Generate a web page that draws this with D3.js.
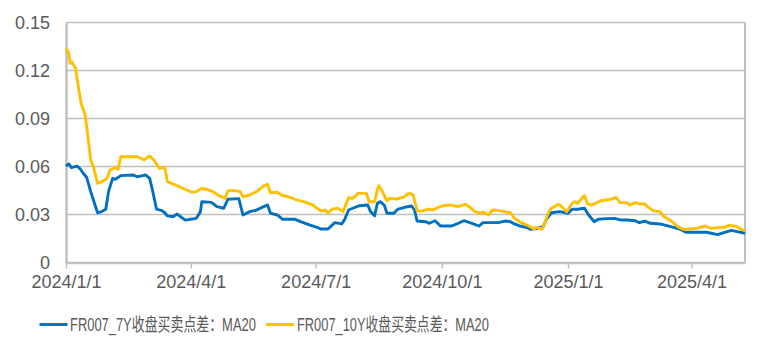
<!DOCTYPE html>
<html>
<head>
<meta charset="utf-8">
<script src="https://cdn.jsdelivr.net/npm/d3@7"></script>
<style>
  html, body { margin: 0; padding: 0; background: #ffffff; }
  svg { display: block; }
</style>
</head>
<body>
<svg id="chart" width="768" height="355"></svg>
<script>
// ---------------- DATA ----------------
const seriesNames = ["FR007_7Y收盘买卖点差：MA20", "FR007_10Y收盘买卖点差：MA20"];

const dates7Y = [
  "2024-01-01","2024-01-03","2024-01-05","2024-01-09","2024-01-11","2024-01-14","2024-01-16","2024-01-19",
  "2024-01-21","2024-01-24","2024-01-27","2024-01-30","2024-02-01","2024-02-04","2024-02-06","2024-02-10",
  "2024-02-19","2024-02-22","2024-02-25","2024-02-28","2024-03-02","2024-03-04","2024-03-07","2024-03-11",
  "2024-03-13","2024-03-15","2024-03-19","2024-03-22","2024-03-25","2024-03-28","2024-04-02","2024-04-05",
  "2024-04-08","2024-04-09","2024-04-16","2024-04-20","2024-04-25","2024-04-28","2024-05-06","2024-05-09",
  "2024-05-14","2024-05-19","2024-05-24","2024-05-27","2024-05-29","2024-06-03","2024-06-07","2024-06-16",
  "2024-06-20","2024-06-27","2024-07-02","2024-07-05","2024-07-10","2024-07-15","2024-07-20","2024-07-22",
  "2024-07-25","2024-07-28","2024-08-02","2024-08-08","2024-08-10","2024-08-13","2024-08-15","2024-08-17",
  "2024-08-20","2024-08-22","2024-08-27","2024-08-30","2024-09-04","2024-09-09","2024-09-11","2024-09-13",
  "2024-09-19","2024-09-22","2024-09-26","2024-09-30","2024-10-08","2024-10-13","2024-10-17","2024-10-23",
  "2024-10-28","2024-10-31","2024-11-11","2024-11-16","2024-11-20","2024-11-23","2024-11-27","2024-12-02",
  "2024-12-05","2024-12-10","2024-12-14","2024-12-16","2024-12-20","2024-12-26","2025-01-01","2025-01-04",
  "2025-01-08","2025-01-13","2025-01-16","2025-01-20","2025-01-23","2025-01-29","2025-02-04","2025-02-08",
  "2025-02-13","2025-02-19","2025-02-22","2025-02-26","2025-03-02","2025-03-09","2025-03-14","2025-03-19",
  "2025-03-24","2025-03-28","2025-04-12","2025-04-20","2025-04-30","2025-05-10"
];
const values7Y = [
  0.0603,0.0616,0.0593,0.0603,0.0589,0.0553,0.0533,0.0443,
  0.0391,0.0311,0.0318,0.0333,0.0443,0.0526,0.0520,0.0543,
  0.0547,0.0536,0.0541,0.0547,0.0526,0.0453,0.0333,0.0324,
  0.0311,0.0291,0.0286,0.0303,0.0283,0.0265,0.0272,0.0276,
  0.0318,0.0380,0.0376,0.0349,0.0339,0.0395,0.0399,0.0297,
  0.0318,0.0328,0.0349,0.0359,0.0308,0.0297,0.0270,0.0270,
  0.0255,0.0234,0.0220,0.0209,0.0209,0.0249,0.0241,0.0266,
  0.0328,0.0339,0.0355,0.0359,0.0318,0.0293,0.0370,0.0380,
  0.0359,0.0308,0.0308,0.0334,0.0345,0.0353,0.0328,0.0259,
  0.0255,0.0245,0.0261,0.0228,0.0228,0.0245,0.0261,0.0245,
  0.0228,0.0249,0.0249,0.0259,0.0255,0.0241,0.0228,0.0218,
  0.0207,0.0214,0.0224,0.0266,0.0311,0.0318,0.0308,0.0333,
  0.0333,0.0339,0.0297,0.0255,0.0270,0.0274,0.0276,0.0266,
  0.0266,0.0261,0.0249,0.0259,0.0245,0.0241,0.0230,0.0220,
  0.0207,0.0189,0.0189,0.0174,0.0201,0.0183
];

const dates10Y = [
  "2024-01-01","2024-01-03","2024-01-04","2024-01-05","2024-01-08","2024-01-10","2024-01-12","2024-01-15",
  "2024-01-17","2024-01-19","2024-01-21","2024-01-24","2024-01-27","2024-01-31","2024-02-02","2024-02-06",
  "2024-02-08","2024-02-10","2024-02-22","2024-02-27","2024-03-02","2024-03-05","2024-03-09","2024-03-13",
  "2024-03-15","2024-03-21","2024-03-26","2024-04-02","2024-04-05","2024-04-09","2024-04-14","2024-04-17",
  "2024-04-22","2024-04-26","2024-04-28","2024-05-03","2024-05-07","2024-05-09","2024-05-14","2024-05-19",
  "2024-05-24","2024-05-27","2024-05-29","2024-06-03","2024-06-06","2024-06-11","2024-06-16","2024-06-22",
  "2024-06-28","2024-07-02","2024-07-05","2024-07-08","2024-07-10","2024-07-13","2024-07-17","2024-07-21",
  "2024-07-25","2024-07-28","2024-08-01","2024-08-07","2024-08-09","2024-08-13","2024-08-15","2024-08-16",
  "2024-08-18","2024-08-22","2024-08-24","2024-08-29","2024-09-03","2024-09-06","2024-09-08","2024-09-10",
  "2024-09-13","2024-09-17","2024-09-21","2024-09-25","2024-09-28","2024-10-01","2024-10-08","2024-10-13",
  "2024-10-18","2024-10-21","2024-10-25","2024-10-29","2024-10-31","2024-11-04","2024-11-07","2024-11-12",
  "2024-11-16","2024-11-20","2024-11-23","2024-11-27","2024-12-02","2024-12-07","2024-12-09","2024-12-13",
  "2024-12-15","2024-12-18","2024-12-20","2024-12-25","2024-12-27","2024-12-31","2025-01-04","2025-01-06",
  "2025-01-08","2025-01-12","2025-01-13","2025-01-15","2025-01-18","2025-01-21","2025-01-25","2025-02-01",
  "2025-02-05","2025-02-08","2025-02-13","2025-02-15","2025-02-19","2025-02-22","2025-02-26","2025-02-28",
  "2025-03-04","2025-03-09","2025-03-12","2025-03-17","2025-03-22","2025-03-26","2025-03-31","2025-04-05",
  "2025-04-11","2025-04-15","2025-04-20","2025-04-25","2025-04-29","2025-05-04","2025-05-07","2025-05-10"
];
const values10Y = [
  0.1339,0.1308,0.1245,0.1255,0.1214,0.1099,0.0995,0.0922,
  0.0786,0.0641,0.0599,0.0495,0.0505,0.0526,0.0578,0.0593,
  0.0583,0.0661,0.0661,0.0641,0.0666,0.0641,0.0589,0.0595,
  0.0505,0.0484,0.0464,0.0439,0.0443,0.0464,0.0453,0.0443,
  0.0416,0.0401,0.0449,0.0449,0.0443,0.0411,0.0422,0.0443,
  0.0478,0.0489,0.0436,0.0439,0.0422,0.0411,0.0395,0.0380,
  0.0364,0.0339,0.0322,0.0328,0.0308,0.0333,0.0339,0.0318,
  0.0405,0.0401,0.0432,0.0432,0.0380,0.0380,0.0457,0.0480,
  0.0453,0.0386,0.0401,0.0397,0.0407,0.0428,0.0432,0.0422,
  0.0322,0.0322,0.0334,0.0328,0.0343,0.0353,0.0359,0.0349,
  0.0364,0.0349,0.0318,0.0308,0.0316,0.0297,0.0328,0.0324,
  0.0316,0.0311,0.0276,0.0252,0.0234,0.0209,0.0220,0.0207,
  0.0245,0.0318,0.0339,0.0364,0.0353,0.0318,0.0370,0.0380,
  0.0370,0.0411,0.0418,0.0370,0.0359,0.0370,0.0386,0.0395,
  0.0407,0.0374,0.0374,0.0359,0.0374,0.0366,0.0366,0.0349,
  0.0324,0.0318,0.0286,0.0261,0.0224,0.0207,0.0209,0.0214,
  0.0228,0.0214,0.0218,0.0220,0.0234,0.0224,0.0209,0.0199
];

const yTickValues = [0, 0.03, 0.06, 0.09, 0.12, 0.15];
const yTickLabels = ["0", "0.03", "0.06", "0.09", "0.12", "0.15"];
const xTickDates = ["2024-01-01", "2024-04-01", "2024-07-01", "2024-10-01", "2025-01-01", "2025-04-01"];
const xTickLabels = ["2024/1/1", "2024/4/1", "2024/7/1", "2024/10/1", "2025/1/1", "2025/4/1"];
const xDomain = ["2024-01-01", "2025-05-10"];
const seriesColors = ["#0070C0", "#FFC000"];

// ---------------- CHART ----------------
(function () {
  const parse = d3.timeParse("%Y-%m-%d");
  const svg = d3.select("#chart");
  const pL = 66, pR = 745, pT = 22.5, pB = 262.5;
  const gridColor = "#BFBFBF";
  const textColor = "#595959";
  const tickFont = "'Liberation Sans', Arial, 'Noto Sans CJK SC', sans-serif";

  const x = d3.scaleTime().domain(xDomain.map(parse)).range([pL, pR]);
  const y = d3.scaleLinear().domain([0, 0.15]).range([pB, pT]);

  // gridlines
  svg.append("g").selectAll("line")
    .data(yTickValues.filter(v => v > 0))
    .join("line")
    .attr("x1", pL).attr("x2", pR)
    .attr("y1", d => y(d)).attr("y2", d => y(d))
    .attr("stroke", gridColor).attr("stroke-width", 1.6);

  // right border
  svg.append("line")
    .attr("x1", pR).attr("x2", pR).attr("y1", y(0.15)).attr("y2", y(0))
    .attr("stroke", gridColor).attr("stroke-width", 2);

  // y axis
  const yAxis = d3.axisLeft(y).tickValues(yTickValues)
    .tickFormat((d, i) => yTickLabels[i]).tickSize(0).tickPadding(16);
  const gy = svg.append("g").attr("transform", `translate(${pL},0)`).call(yAxis);
  gy.select(".domain").attr("stroke", gridColor).attr("stroke-width", 2.4);
  gy.selectAll("text").attr("fill", textColor).style("font-family", tickFont).style("font-size", "18px");

  // x axis
  const xAxis = d3.axisBottom(x).tickValues(xTickDates.map(parse))
    .tickFormat((d, i) => xTickLabels[i]).tickSizeInner(6).tickSizeOuter(0).tickPadding(7);
  const gx = svg.append("g").attr("transform", `translate(0,${pB})`).call(xAxis);
  gx.select(".domain").attr("stroke", gridColor).attr("stroke-width", 2.4);
  gx.selectAll(".tick line").attr("stroke", gridColor).attr("stroke-width", 1.5);
  gx.selectAll("text").attr("fill", textColor).style("font-family", tickFont).style("font-size", "18px");

  // lines
  const line = d3.line().x(d => x(d[0])).y(d => y(d[1])).curve(d3.curveLinear);
  const series = [
    dates7Y.map((d, i) => [parse(d), values7Y[i]]),
    dates10Y.map((d, i) => [parse(d), values10Y[i]])
  ];
  svg.append("g").selectAll("path")
    .data(series)
    .join("path")
    .attr("d", line)
    .attr("fill", "none")
    .attr("stroke", (d, i) => seriesColors[i])
    .attr("stroke-width", 2.9)
    .attr("stroke-linejoin", "round");

  // legend (text horizontally condensed, as in the reference)
  const legendItems = [
    { x1: 39.5, x2: 67.5, tx: 70, w: 186 },
    { x1: 266, x2: 294, tx: 297, w: 192 }
  ];
  const lg = svg.append("g");
  legendItems.forEach((it, i) => {
    lg.append("line")
      .attr("x1", it.x1).attr("x2", it.x2).attr("y1", 324.5).attr("y2", 324.5)
      .attr("stroke", seriesColors[i]).attr("stroke-width", 2.9);
    const t = lg.append("text")
      .attr("x", 0).attr("y", 0)
      .attr("fill", textColor)
      .style("font-family", tickFont).style("font-size", "18px")
      .text(seriesNames[i]);
    const natural = t.node().getComputedTextLength() || it.w;
    t.attr("transform", `translate(${it.tx},330.5) scale(${it.w / natural},1)`);
  });
})();
</script>
</body>
</html>
